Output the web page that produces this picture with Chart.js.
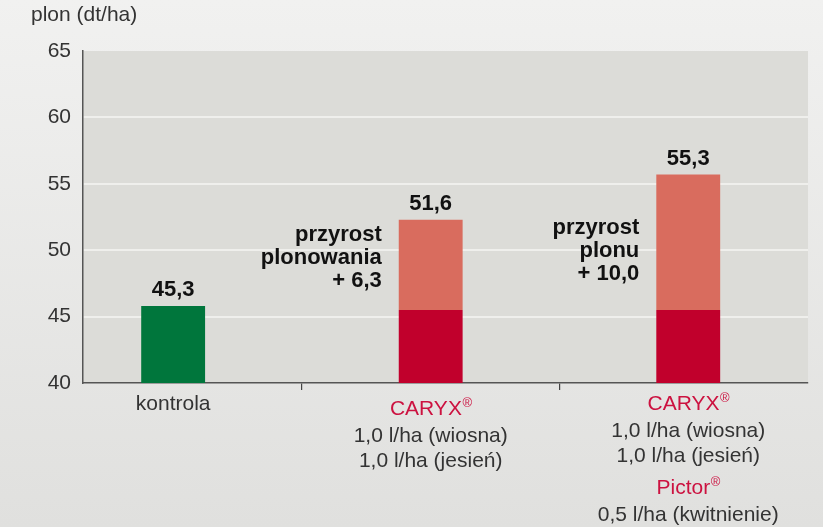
<!DOCTYPE html>
<html>
<head>
<meta charset="utf-8">
<script src="https://cdn.jsdelivr.net/npm/chart.js@4"></script>
<style>
  html, body { margin: 0; padding: 0; }
  body { width: 823px; height: 527px; background: linear-gradient(#f1f1f0, #e0e0de); overflow: hidden; }
  #wrap { position: relative; width: 823px; height: 527px; }
</style>
</head>
<body>
<div id="wrap"><canvas id="c" width="823" height="527"></canvas></div>
<script>
// ---- data ----
const categories = ["kontrola", "CARYX 2x", "CARYX 2x + Pictor"];
const baseYield = [45.8, null, null];          // control bar (as drawn)
const carxyBase = [null, 45.5, 45.5];           // dark red base of treated bars
const treatedTop = [null, 52.3, 55.7];          // top of treated bars (as drawn)
const valueLabels = ["45,3", "51,6", "55,3"];
const gainLabels = [null, ["przyrost", "plonowania", "+ 6,3"], ["przyrost", "plonu", "+ 10,0"]];
const yTicks = [40, 45, 50, 55, 60, 65];
const yAxisTitle = "plon (dt/ha)";
const xLabelLines = [
  [{t: "kontrola", red: false}],
  [{t: "CARYX", reg: true, red: true}, {t: "1,0 l/ha (wiosna)"}, {t: "1,0 l/ha (jesień)"}],
  [{t: "CARYX", reg: true, red: true}, {t: "1,0 l/ha (wiosna)"}, {t: "1,0 l/ha (jesień)"},
   {t: "Pictor", reg: true, red: true, gap: 7}, {t: "0,5 l/ha (kwitnienie)"}]
];

const AXIS_MIN = 40;
const FONT = '"Liberation Sans", Arial, sans-serif';
const TXT = '#333333';
const RED_TXT = '#cc1240';
const REG_SIZE = 21;
const BOLD_SIZE = 22;

function toPoints(startArr, endArr) {
  const out = [];
  endArr.forEach((v, i) => {
    if (v == null) return;
    const s = startArr === null ? AXIS_MIN : startArr[i];
    out.push({ x: i, y: [s, v] });
  });
  return out;
}
const greenData = toPoints(null, baseYield);
const darkData = toPoints(null, carxyBase);
const lightData = toPoints(carxyBase, treatedTop);

const bgPlugin = {
  id: 'bg',
  beforeDraw(chart) {
    const {ctx, chartArea: a} = chart;
    ctx.save();
    ctx.fillStyle = '#dcdcd8';
    ctx.fillRect(a.left, a.top, a.right - a.left, a.bottom - a.top);
    ctx.restore();
  }
};

const textPlugin = {
  id: 'texts',
  afterDraw(chart) {
    const {ctx} = chart;
    const xs = chart.scales.x;
    ctx.save();
    // axis title
    ctx.fillStyle = TXT;
    ctx.font = REG_SIZE + 'px ' + FONT;
    ctx.textAlign = 'left';
    ctx.textBaseline = 'middle';
    ctx.fillText(yAxisTitle, 31, 15);

    // value labels + gain annotations (placed from the top bar element of each category)
    const tops = {};
    [0, 2].forEach(di => {
      const meta = chart.getDatasetMeta(di);
      chart.data.datasets[di].data.forEach((p, k) => { tops[p.x] = meta.data[k]; });
    });
    ctx.font = 'bold ' + BOLD_SIZE + 'px ' + FONT;
    ctx.fillStyle = '#111';
    categories.forEach((c, i) => {
      const el = tops[i];
      if (!el) return;
      ctx.textAlign = 'center';
      ctx.fillText(valueLabels[i], el.x, el.y - 16);
      if (gainLabels[i]) {
        ctx.textAlign = 'right';
        const xr = el.x - el.width / 2 - 17;
        gainLabels[i].forEach((ln, k) => ctx.fillText(ln, xr, 235 - (i === 2 ? 7 : 0) + k * 23));
      }
    });

    // x category labels
    const startY = [404, 409, 404];
    categories.forEach((c, i) => {
      const cx = xs.getPixelForValue(i);
      let y = startY[i];
      xLabelLines[i].forEach((ln) => {
        if (ln.gap) y += ln.gap;
        ctx.font = REG_SIZE + 'px ' + FONT;
        ctx.fillStyle = ln.red ? RED_TXT : TXT;
        ctx.textBaseline = 'middle';
        if (ln.reg) {
          const w = ctx.measureText(ln.t).width;
          ctx.font = '13px ' + FONT;
          const w2 = ctx.measureText('®').width;
          const x0 = cx - (w + w2) / 2;
          ctx.textAlign = 'left';
          ctx.font = REG_SIZE + 'px ' + FONT;
          ctx.fillText(ln.t, x0, y);
          ctx.font = '13px ' + FONT;
          ctx.fillText('®', x0 + w + 0.5, y - 6);
        } else {
          ctx.textAlign = 'center';
          ctx.fillText(ln.t, cx, y);
        }
        y += ln.red ? 27 : 25;
      });
    });
    ctx.restore();
  }
};

new Chart(document.getElementById('c'), {
  type: 'bar',
  data: {
    datasets: [
      { label: 'kontrola', data: greenData, backgroundColor: '#00763c' },
      { label: 'baza', data: darkData, backgroundColor: '#c1002c' },
      { label: 'przyrost', data: lightData, backgroundColor: '#d96c5e' }
    ]
  },
  options: {
    responsive: false,
    animation: false,
    events: [],
    layout: { padding: { top: 51, right: 15, left: 0, bottom: 0 } },
    datasets: { bar: { grouped: false, categoryPercentage: 1, barPercentage: 0.248, borderWidth: 0 } },
    plugins: { legend: { display: false }, tooltip: { enabled: false }, title: { display: false } },
    scales: {
      x: {
        type: 'linear',
        min: -0.35,
        max: 2.465,
        offset: false,
        afterBuildTicks(s) { s.ticks = [{ value: 0.5 }, { value: 1.5 }]; },
        grid: {
          offset: false,
          drawOnChartArea: false,
          drawTicks: true,
          tickLength: 7,
          color: '#444',
          lineWidth: 1.2
        },
        border: { display: true, color: '#555', width: 1.5 },
        ticks: { display: true, callback: () => '', font: { size: 1 } },
        afterFit(s) { s.height = 144; }
      },
      y: {
        min: yTicks[0],
        max: yTicks[yTicks.length - 1],
        afterBuildTicks(s) { s.ticks = yTicks.map(v => ({ value: v })); },
        grid: {
          drawTicks: false,
          color: ctx => (ctx.tick && ctx.tick.value > yTicks[0] && ctx.tick.value < yTicks[yTicks.length - 1]) ? '#efefec' : 'rgba(0,0,0,0)',
          lineWidth: 2
        },
        border: { display: true, color: '#555', width: 1.5 },
        ticks: { color: TXT, font: { family: FONT, size: REG_SIZE }, padding: 12, callback: v => String(v) },
        afterFit(s) { s.width = 83; }
      }
    }
  },
  plugins: [bgPlugin, textPlugin]
});
</script>
</body>
</html>
